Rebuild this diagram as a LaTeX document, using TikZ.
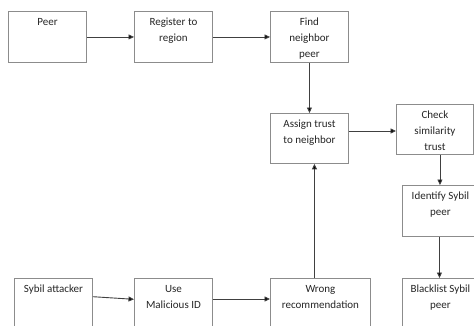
\documentclass[tikz,border=0pt]{standalone}
\usepackage{fontspec}
\setmainfont{Carlito}
\usetikzlibrary{arrows.meta}
\definecolor{boxgray}{HTML}{8C8C8C}
\definecolor{linegray}{HTML}{404040}
\newcommand{\bxt}[3]{\parbox[c][#2pt][t]{#1pt}{\centering\fontsize{11}{15.7}\selectfont\rule{0pt}{14.5pt}#3}}
\tikzset{
  flowbox/.style={draw=boxgray, line width=0.9pt, inner sep=0pt, anchor=north west, fill=white, text=black!85},
  arr/.style={draw=linegray, line width=0.9pt, -{Triangle[length=5.5pt,width=5pt,fill=black]}}
}
\begin{document}
\begin{tikzpicture}[x=1pt,y=-1pt]
\useasboundingbox (0,0) rectangle (474,325);
\clip (0,0) rectangle (474,325);
\fill[white] (0,0) rectangle (474,325);
\node[flowbox] (peer) at (8,11) {\bxt{78}{51}{Peer}};
\node[flowbox] (reg) at (134,11) {\bxt{78}{51}{Register to\\region}};
\node[flowbox] (find) at (270,11) {\bxt{78}{51}{Find\\neighbor\\peer}};
\node[flowbox] (assign) at (270,113) {\bxt{78}{50}{\rule{0pt}{12.5pt}Assign trust\\to neighbor}};
\node[flowbox] (check) at (396,104) {\bxt{77}{50}{Check\\similarity\\trust}};
\node[flowbox] (ident) at (402,185) {\bxt{76}{51}{Identify Sybil\\peer}};
\node[flowbox] (black) at (402,278) {\bxt{76}{62}{Blacklist Sybil\\peer}};
\node[flowbox] (sybil) at (14,278) {\bxt{78}{62}{Sybil attacker}};
\node[flowbox] (use) at (134,278) {\bxt{78}{62}{Use\\Malicious ID}};
\node[flowbox] (wrong) at (270,278) {\bxt{100}{62}{Wrong\\recommendation}};
\draw[arr] (peer.east) -- (reg.west);
\draw[arr] (reg.east) -- (find.west);
\draw[arr] (find.south) -- (assign.north);
\draw[arr] ([yshift=-18pt]assign.north east) -- ([yshift=-18pt]assign.north east -| check.west);
\draw[arr] ([xshift=5pt]check.south) -- ([xshift=5pt]check.south |- ident.north);
\draw[arr] ([xshift=-1pt]ident.south) -- ([xshift=-1pt]ident.south |- black.north);
\draw[arr] ([xshift=-6pt]wrong.north) -- ([xshift=-6pt]wrong.north |- assign.south);
\draw[arr] ([yshift=-18.7pt]sybil.north east) -- ([yshift=-21.3pt]use.north west);
\draw[arr] ([yshift=-21pt]use.north east) -- ([yshift=-21pt]wrong.north west);
\end{tikzpicture}
\end{document}
